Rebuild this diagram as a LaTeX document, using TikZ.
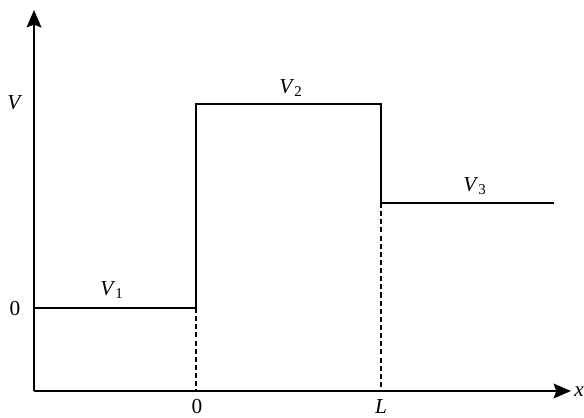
\documentclass[tikz,border=0pt]{standalone}
\usepackage{fontspec}
\setmainfont{Liberation Serif}
\usetikzlibrary{arrows.meta,positioning}
\newcommand{\potl}[1]{\textit{V}\textsubscript{#1}}

\begin{document}
\begin{tikzpicture}[x=0.75pt,y=-0.75pt,
  axis/.style={line width=1.7pt,-{Stealth[length=13pt,width=11pt,inset=2pt]}},
  potline/.style={line width=1.7pt},
  guide/.style={line width=1.6pt,dash pattern=on 3.8pt off 2.3pt},
  lbl/.style={font=\fontsize{16}{18}\selectfont,inner sep=1pt}]
\useasboundingbox (0,0) rectangle (584,417);
% axes
\coordinate (O) at (34,391);
\coordinate (ytop) at (34,10);
\coordinate (xend) at (571,391);
\draw[axis] (O)--(ytop);
\draw[axis] (O)--(xend);
% potential steps
\coordinate (a0) at (34,308);
\coordinate (a1) at (196,308);
\coordinate (b1) at (196,104);
\coordinate (b2) at (381,104);
\coordinate (c2) at (381,203);
\coordinate (c3) at (554,203);
\coordinate (f1) at (196,391);
\coordinate (f2) at (381,391);
\draw[potline] (a0)--(a1)--(b1)--(b2)--(c2)--(c3);
\draw[guide] (a1)--(f1);
\draw[guide] (c2)--(f2);
% labels
\node[lbl] (vlab) at (15,103) {\textit{V}};
\node[lbl] (zlab) at (15,309) {0};
\node[lbl] (v1) at (112,290) {\potl{1}};
\node[lbl] (v2) at (291,88) {\potl{2}};
\node[lbl] (v3) at (475,186) {\potl{3}};
\node[lbl,anchor=base] (x0) at (197,413) {0};
\node[lbl,anchor=base] (xl) at (381,413) {\textit{L}};
\node[lbl,anchor=west,inner sep=0pt] (xlab) at (574,392) {\textit{x}};
\end{tikzpicture}
\end{document}
